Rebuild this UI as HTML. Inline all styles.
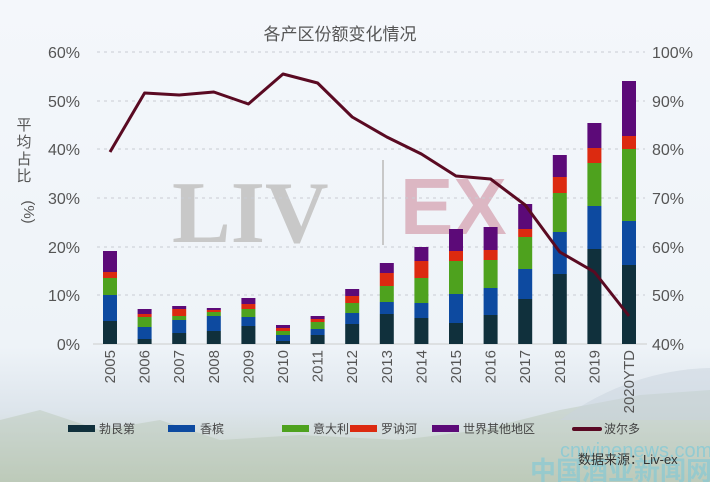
<!DOCTYPE html>
<html><head><meta charset="utf-8"><style>
body{margin:0;width:710px;height:482px;overflow:hidden;font-family:"Liberation Sans","Noto Sans CJK SC",sans-serif;}
</style></head><body>
<svg width="710" height="482" xmlns="http://www.w3.org/2000/svg" font-family="Liberation Sans, Noto Sans CJK SC, sans-serif">
<defs>
<linearGradient id="bg" x1="0" y1="0" x2="0" y2="1">
<stop offset="0" stop-color="#f4f7fb"/><stop offset="0.72" stop-color="#eef3f8"/><stop offset="0.85" stop-color="#dde5ec"/><stop offset="1" stop-color="#c3cfc0"/>
</linearGradient>
</defs>
<rect width="710" height="482" fill="url(#bg)"/>
<path d="M0 482 L0 420 L40 410 L100 430 L160 420 L220 440 L300 435 L400 440 L480 430 L560 410 L640 395 L710 390 L710 482Z" fill="#b5c4ae" opacity="0.4"/>
<path d="M560 420 Q630 370 710 368 L710 420Z" fill="#c9d3dd" opacity="0.5"/>
<!-- watermark -->
<text x="172" y="242" font-family="Liberation Serif, serif" font-size="88" fill="#c8c8c8" font-weight="bold">LIV</text>
<line x1="383" y1="160" x2="383" y2="245" stroke="#c8c8c8" stroke-width="2"/>
<text x="400" y="234" font-size="80" fill="#dcb7c3" font-weight="bold">EX</text>
<text x="340" y="40" font-size="17" fill="#555" text-anchor="middle">各产区份额变化情况</text>
<g stroke="#c9ccd3" stroke-dasharray="3,4" stroke-width="1">
<line x1="97" y1="295" x2="645" y2="295"/><line x1="97" y1="247" x2="645" y2="247"/><line x1="97" y1="198" x2="645" y2="198"/><line x1="97" y1="149" x2="645" y2="149"/><line x1="97" y1="101" x2="645" y2="101"/><line x1="97" y1="52" x2="645" y2="52"/>
</g>
<line x1="93" y1="344" x2="647" y2="344" stroke="#ccc"/>
<g font-size="16" fill="#555" text-anchor="end">
<text x="80" y="350">0%</text><text x="80" y="301">10%</text><text x="80" y="253">20%</text><text x="80" y="204">30%</text><text x="80" y="155">40%</text><text x="80" y="107">50%</text><text x="80" y="58">60%</text>
</g>
<g font-size="16" fill="#555">
<text x="652" y="350">40%</text><text x="652" y="301">50%</text><text x="652" y="253">60%</text><text x="652" y="204">70%</text><text x="652" y="155">80%</text><text x="652" y="107">90%</text><text x="652" y="58">100%</text>
</g>
<g font-size="15" fill="#555" text-anchor="middle">
<text x="24" y="130">平</text><text x="24" y="147">均</text><text x="24" y="164">占</text><text x="24" y="181">比</text>
</g>
<text x="24" y="212" font-size="15" fill="#555" transform="rotate(90 24 212)" text-anchor="middle">(%)</text>
<g id="bars"></g>
<g id="yrs" font-size="15" fill="#555"></g>
<polyline id="ln" fill="none" stroke="#5a0a22" stroke-width="3" stroke-linejoin="round"/>
<g font-size="12" fill="#444">
<rect x="68" y="425" width="27" height="7" fill="#10303c"/><text x="99" y="433">勃艮第</text>
<rect x="168" y="425" width="27" height="7" fill="#0d4aa0"/><text x="200" y="433">香槟</text>
<rect x="282" y="425" width="27" height="7" fill="#4ea21e"/><text x="313" y="433">意大利</text>
<rect x="350" y="425" width="27" height="7" fill="#dc2a10"/><text x="381" y="433">罗讷河</text>
<rect x="432" y="425" width="27" height="7" fill="#5c0a78"/><text x="463" y="433">世界其他地区</text>
<rect x="572" y="427" width="30" height="4" rx="2" fill="#5a0a22"/><text x="604" y="433">波尔多</text>
</g>
<text x="560" y="457" font-size="20" fill="#7ec9d8" opacity="0.7">cnwinenews.com</text>
<text x="530" y="480" font-size="26" fill="#7ec9d8" opacity="0.6" font-weight="bold">中国酒业新闻网</text>
<text x="578" y="464" font-size="13" fill="#333">数据来源：Liv-ex</text>
<script>
var d=[[321,295,278,272,251],[339,327,317,314,309],[333,320,316,309,306],[331,316,312,310,308],[326,317,309,304,298],[341,335,331,328,325],[335,329,322,319,316],[324,313,303,296,289],[314,302,286,273,263],[318,303,278,261,247],[323,294,261,251,229],[315,288,260,250,227],[299,269,237,229,204],[274,232,193,177,155],[249,206,163,148,123],[265,221,149,136,81]];
var c=["#10303c","#0d4aa0","#4ea21e","#dc2a10","#5c0a78"];
var L=[152,93,95,92,104,74,83,117,137,154,176,179,205,252,272,316];
var yrs=["2005","2006","2007","2008","2009","2010","2011","2012","2013","2014","2015","2016","2017","2018","2019","2020YTD"];
var ns="http://www.w3.org/2000/svg",g=document.getElementById("bars"),y=document.getElementById("yrs"),pts=[];
for(var i=0;i<16;i++){var x=110+34.6*i,prev=344;
for(var k=0;k<5;k++){var r=document.createElementNS(ns,"rect");r.setAttribute("x",x-7);r.setAttribute("width",14);r.setAttribute("y",d[i][k]);r.setAttribute("height",prev-d[i][k]);r.setAttribute("fill",c[k]);g.appendChild(r);prev=d[i][k];}
var t=document.createElementNS(ns,"text");t.setAttribute("transform","translate("+(x+5)+",350) rotate(-90)");t.setAttribute("text-anchor","end");t.textContent=yrs[i];y.appendChild(t);
pts.push(x+","+L[i]);}
document.getElementById("ln").setAttribute("points",pts.join(" "));
</script>
</svg>
</body></html>
